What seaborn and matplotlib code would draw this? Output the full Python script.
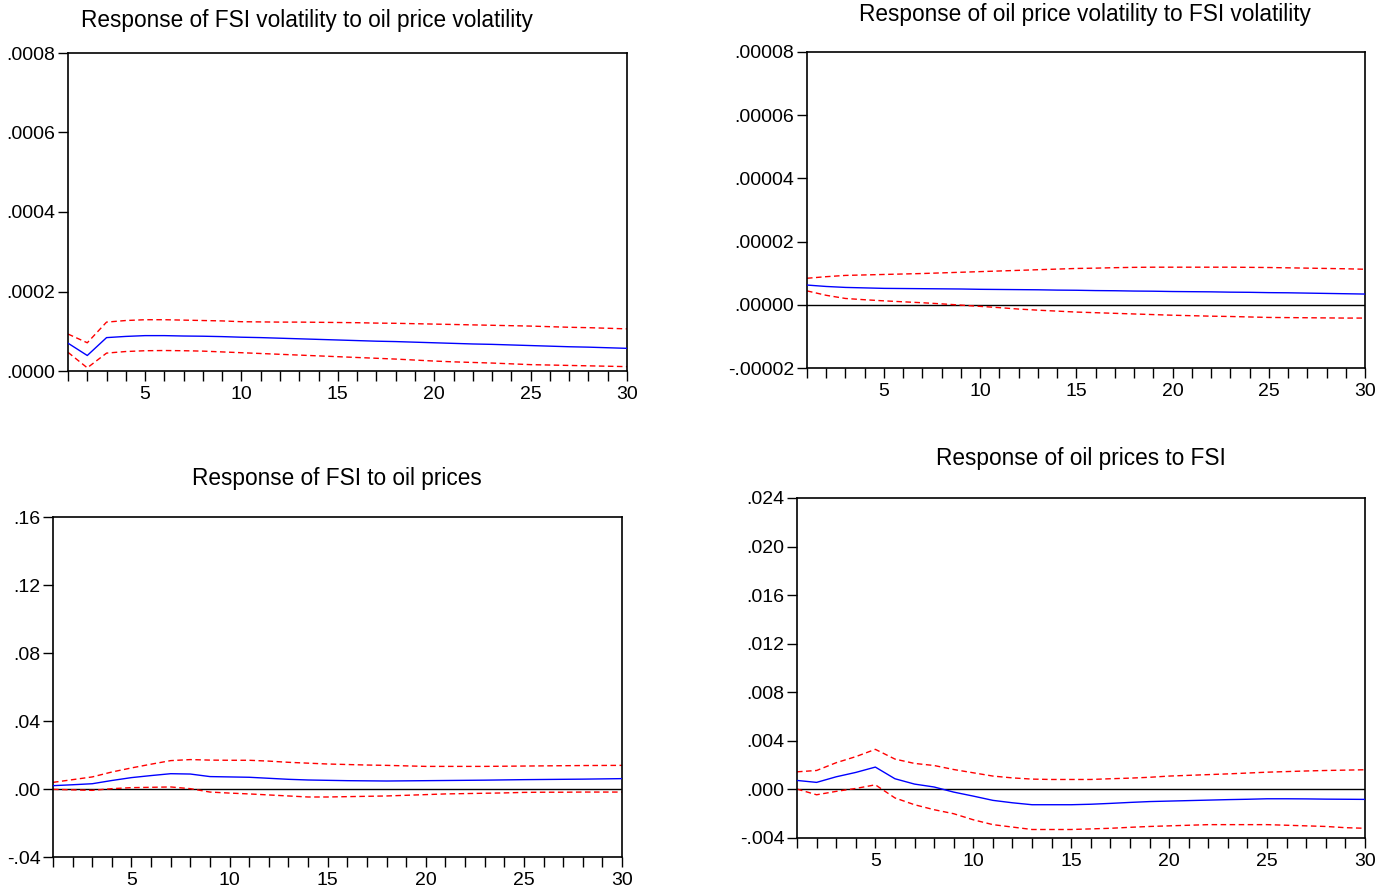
import numpy as np
import pandas as pd
import matplotlib
matplotlib.use("Agg")
import matplotlib.pyplot as plt
from matplotlib.ticker import FuncFormatter, MultipleLocator
import seaborn as sns

# ---------------- data ----------------
periods = list(range(1, 31))

titles = [
    "Response of FSI volatility to oil price volatility",
    "Response of oil price volatility to FSI volatility",
    "Response of FSI to oil prices",
    "Response of oil prices to FSI",
]

# Panel 1 (units 1e-5)
p1_resp = [7.0, 3.9, 8.4, 8.7, 8.9, 8.9, 8.8, 8.75, 8.65, 8.5, 8.4, 8.25, 8.1, 7.95, 7.8,
           7.65, 7.5, 7.4, 7.25, 7.1, 6.95, 6.8, 6.7, 6.55, 6.4, 6.25, 6.1, 6.0, 5.85, 5.7]
p1_up = [9.3, 7.1, 12.3, 12.7, 12.9, 12.9, 12.8, 12.7, 12.6, 12.4, 12.35, 12.3, 12.3, 12.25, 12.2,
         12.15, 12.05, 12.0, 11.9, 11.8, 11.7, 11.6, 11.5, 11.4, 11.3, 11.15, 11.0, 10.9, 10.75, 10.6]
p1_lo = [4.7, 0.8, 4.5, 4.9, 5.1, 5.15, 5.1, 5.0, 4.8, 4.6, 4.4, 4.2, 4.0, 3.8, 3.6,
         3.4, 3.2, 3.0, 2.75, 2.5, 2.3, 2.15, 2.0, 1.8, 1.6, 1.5, 1.4, 1.3, 1.2, 1.1]

# Panel 2 (units 1e-6)
p2_resp = [6.25, 5.8, 5.5, 5.35, 5.2, 5.15, 5.1, 5.05, 5.0, 4.9, 4.85, 4.8, 4.75, 4.65, 4.6,
           4.5, 4.45, 4.35, 4.3, 4.2, 4.15, 4.1, 4.0, 3.95, 3.85, 3.8, 3.7, 3.6, 3.5, 3.4]
p2_up = [8.4, 8.9, 9.3, 9.45, 9.6, 9.75, 9.9, 10.1, 10.3, 10.5, 10.7, 10.9, 11.1, 11.3, 11.5,
         11.6, 11.75, 11.85, 11.9, 11.9, 11.9, 11.9, 11.9, 11.85, 11.8, 11.7, 11.6, 11.5, 11.4, 11.25]
p2_lo = [4.4, 3.0, 2.0, 1.6, 1.25, 0.95, 0.65, 0.3, -0.1, -0.5, -0.9, -1.35, -1.7, -2.0, -2.3,
         -2.5, -2.7, -2.9, -3.1, -3.3, -3.45, -3.6, -3.7, -3.85, -4.0, -4.05, -4.1, -4.15, -4.2, -4.2]

# Panel 3 (units 1e-3)
p3_resp = [1.96, 2.5, 3.1, 5.0, 6.7, 7.9, 9.0, 8.8, 7.3, 7.1, 6.9, 6.3, 5.7, 5.3, 5.1,
           4.9, 4.8, 4.7, 4.8, 4.9, 5.0, 5.1, 5.2, 5.35, 5.5, 5.6, 5.7, 5.8, 5.95, 6.1]
p3_up = [3.9, 5.5, 7.1, 10.0, 12.4, 14.6, 16.7, 17.3, 17.0, 16.9, 16.9, 16.4, 15.7, 15.2, 14.7,
         14.4, 14.1, 13.9, 13.6, 13.3, 13.3, 13.3, 13.3, 13.4, 13.5, 13.6, 13.7, 13.8, 13.85, 13.9]
p3_lo = [-0.2, -0.5, -0.8, 0.2, 0.8, 1.0, 1.2, 0.2, -1.8, -2.4, -2.9, -3.5, -4.1, -4.7, -4.7,
         -4.5, -4.3, -4.1, -3.7, -3.3, -2.9, -2.7, -2.5, -2.3, -2.0, -1.9, -1.9, -1.8, -1.8, -1.8]

# Panel 4 (units 1e-3)
p4_resp = [0.74, 0.58, 1.04, 1.4, 1.84, 0.88, 0.44, 0.2, -0.22, -0.55, -0.9, -1.1, -1.26, -1.26, -1.26,
           -1.22, -1.15, -1.07, -1.0, -0.96, -0.92, -0.88, -0.84, -0.81, -0.77, -0.77, -0.78, -0.8, -0.81, -0.82]
p4_up = [1.45, 1.56, 2.2, 2.7, 3.3, 2.5, 2.14, 1.97, 1.64, 1.37, 1.1, 0.95, 0.85, 0.82, 0.82,
         0.82, 0.88, 0.93, 1.0, 1.1, 1.16, 1.22, 1.28, 1.35, 1.42, 1.47, 1.52, 1.56, 1.59, 1.62]
p4_lo = [0.03, -0.44, -0.16, 0.08, 0.38, -0.7, -1.26, -1.67, -2.0, -2.5, -2.9, -3.1, -3.3, -3.3, -3.3,
         -3.25, -3.2, -3.12, -3.05, -3.0, -2.95, -2.9, -2.9, -2.9, -2.9, -2.95, -3.0, -3.05, -3.15, -3.2]

scales = [1e-5, 1e-6, 1e-3, 1e-3]
series = [(p1_resp, p1_up, p1_lo), (p2_resp, p2_up, p2_lo),
          (p3_resp, p3_up, p3_lo), (p4_resp, p4_up, p4_lo)]

# ---------------- style ----------------
sns.set_theme(style="white")
plt.rcParams["font.family"] = ["Liberation Sans", "DejaVu Sans"]
plt.rcParams["axes.edgecolor"] = "black"
plt.rcParams["axes.linewidth"] = 1.2

W, H = 1390, 892
fig = plt.figure(figsize=(13.9, 8.92), dpi=100)
fig.patch.set_facecolor("white")

# axes boxes in pixels: left, top, right, bottom
boxes = [(68, 53, 627, 371), (807, 52, 1365, 368), (53, 517, 622, 857), (797, 498, 1365, 838)]
ylims = [(0.0, 0.0008), (-0.00002, 0.00008), (-0.04, 0.16), (-0.004, 0.024)]
ysteps = [0.0002, 0.00002, 0.04, 0.004]
ydec = [4, 5, 2, 3]
title_pos = [(307, 20), (1085, 14), (337, 478), (1081, 458)]
zero_line = [False, True, True, True]


def make_fmt(d):
    def f(v, pos):
        s = f"{v:.{d}f}"
        if s.startswith("-0."):
            s = "-" + s[2:]
        elif s.startswith("0."):
            s = s[1:]
        return s
    return f


for i in range(4):
    l, t, r, b = boxes[i]
    ax = fig.add_axes([l / W, 1 - b / H, (r - l) / W, (b - t) / H])
    sc = scales[i]
    resp, up, lo = series[i]
    df = pd.DataFrame({
        "period": periods,
        "resp": np.array(resp) * sc,
        "up": np.array(up) * sc,
        "lo": np.array(lo) * sc,
    })
    if zero_line[i]:
        ax.axhline(0, color="black", lw=1.0, zorder=1)
    sns.lineplot(data=df, x="period", y="up", ax=ax, color="#FF0000", lw=1.0,
                 linestyle=(0, (4, 2.5)), zorder=2)
    sns.lineplot(data=df, x="period", y="lo", ax=ax, color="#FF0000", lw=1.0,
                 linestyle=(0, (4, 2.5)), zorder=2)
    sns.lineplot(data=df, x="period", y="resp", ax=ax, color="#0000FF", lw=1.0, zorder=3)

    ax.set_xlim(1, 30)
    ax.set_ylim(*ylims[i])
    ax.set_xlabel("")
    ax.set_ylabel("")
    ax.xaxis.set_major_locator(MultipleLocator(5))
    ax.xaxis.set_minor_locator(MultipleLocator(1))
    ax.yaxis.set_major_locator(MultipleLocator(ysteps[i]))
    ax.yaxis.set_major_formatter(FuncFormatter(make_fmt(ydec[i])))
    ax.tick_params(axis="both", which="both", direction="out", length=7, width=1,
                   color="black", labelsize=14, labelcolor="black", pad=2,
                   bottom=True, left=True, top=False, right=False)
    ax.tick_params(axis="x", which="major", pad=4)
    for sp in ax.spines.values():
        sp.set_visible(True)
        sp.set_color("black")
        sp.set_linewidth(1.2)

    tx, ty = title_pos[i]
    fig.text(tx / W, 1 - ty / H, titles[i], ha="center", va="center",
             fontsize=16.3, color="black")

fig.savefig("out.png", dpi=100, facecolor="white")
